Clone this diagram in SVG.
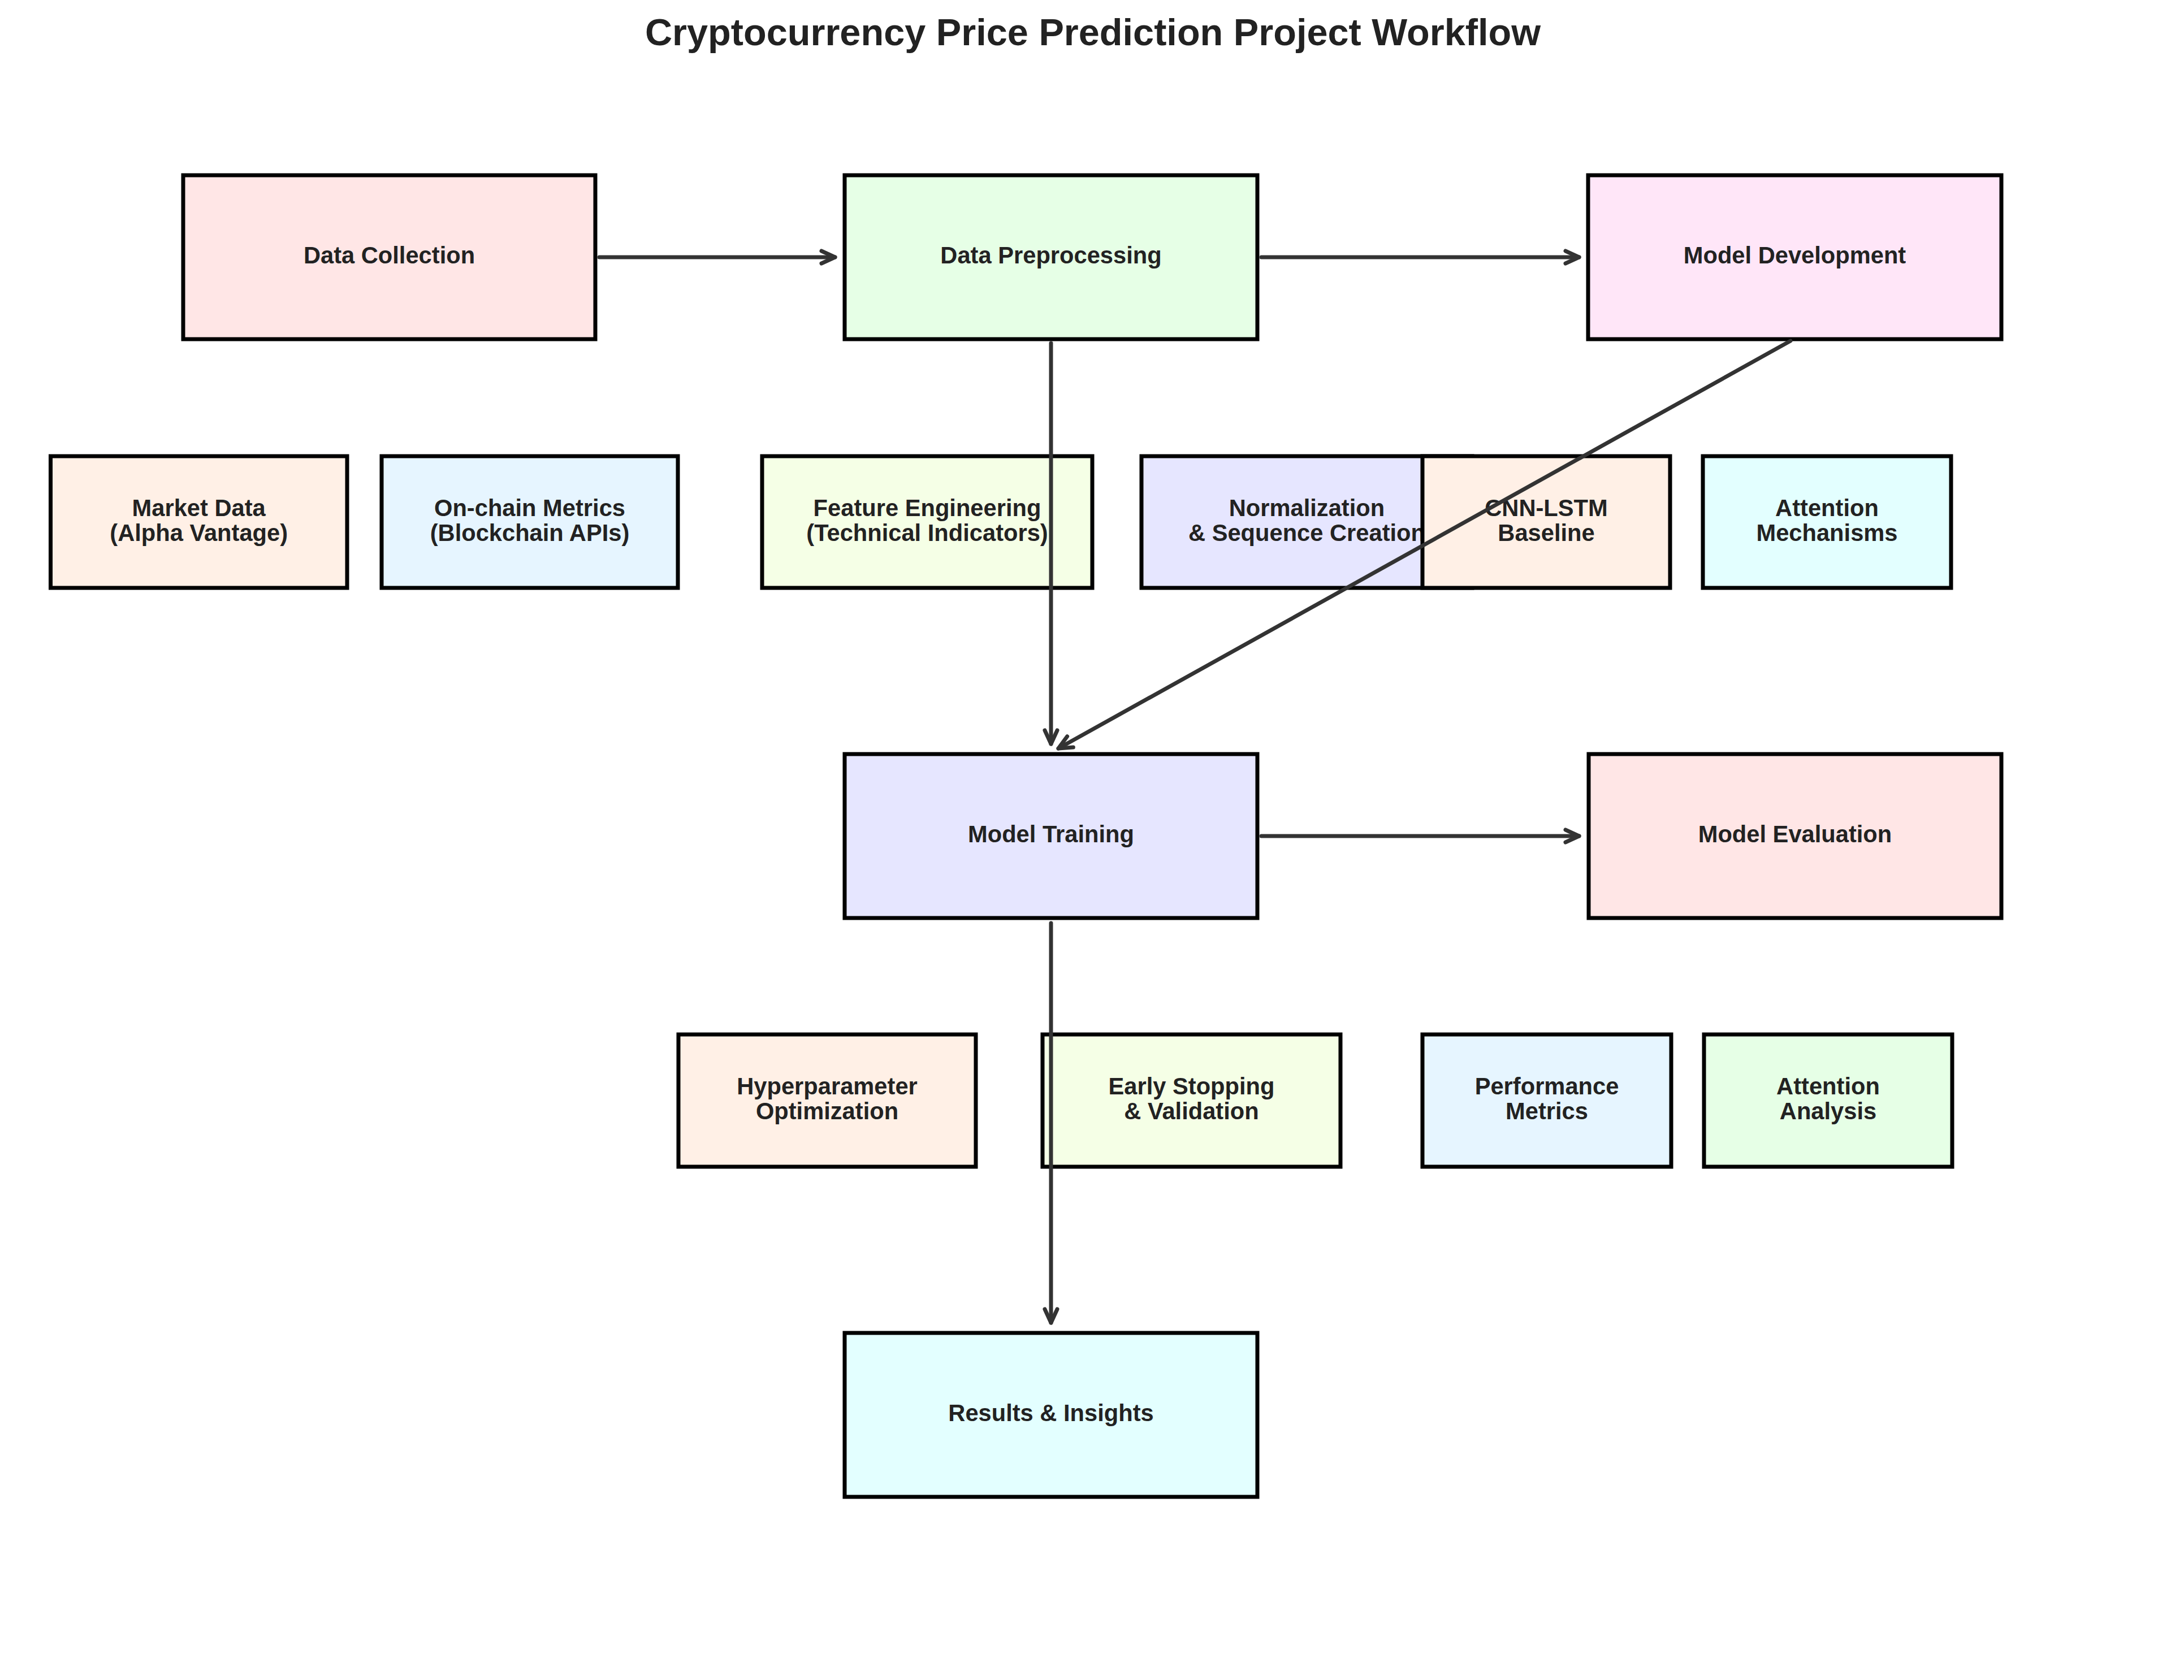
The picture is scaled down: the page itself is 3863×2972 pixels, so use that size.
<svg xmlns="http://www.w3.org/2000/svg" width="3863" height="2972" viewBox="0 0 3863 2972">
<defs>
<style>
.box{stroke:#000;stroke-width:7}
.lbl{font-family:"Liberation Sans",Arial,sans-serif;font-weight:bold;font-size:41.67px;fill:#222;text-anchor:middle}
.title{font-family:"Liberation Sans",Arial,sans-serif;font-weight:bold;font-size:66.67px;fill:#222;text-anchor:middle}
.conn{stroke:#333;stroke-width:7;fill:none;stroke-linecap:round;marker-end:url(#arr)}
</style>
<marker id="arr" markerUnits="userSpaceOnUse" markerWidth="60" markerHeight="60" viewBox="-30 -30 60 60" refX="0" refY="0" orient="auto" overflow="visible">
<path d="M -24 -11 L 0 0 L -24 11" fill="none" stroke="#333" stroke-width="7" stroke-linecap="round" stroke-linejoin="round"/>
</marker>
</defs>
<rect width="3863" height="2972" fill="#fff"/>
<text class="title" x="1933" y="80">Cryptocurrency Price Prediction Project Workflow</text>

<g id="data-collection"><rect class="box" x="324" y="310" width="729" height="290" fill="#FFE6E6"/><text class="lbl" x="688.5" y="466">Data Collection</text></g>
<g id="data-preprocessing"><rect class="box" x="1494" y="310" width="730" height="290" fill="#E6FFE6"/><text class="lbl" x="1859" y="466">Data Preprocessing</text></g>
<g id="model-development"><rect class="box" x="2809" y="310" width="731" height="290" fill="#FFE6F8"/><text class="lbl" x="3174.5" y="466">Model Development</text></g>
<g id="model-training"><rect class="box" x="1494" y="1334" width="730" height="290" fill="#E6E6FF"/><text class="lbl" x="1859" y="1490">Model Training</text></g>
<g id="model-evaluation"><rect class="box" x="2810" y="1334" width="730" height="290" fill="#FFE6E6"/><text class="lbl" x="3175" y="1490">Model Evaluation</text></g>
<g id="results"><rect class="box" x="1494" y="2358" width="730" height="290" fill="#E3FFFF"/><text class="lbl" x="1859" y="2514">Results &amp; Insights</text></g>

<g id="market-data"><rect class="box" x="89.5" y="807" width="524.5" height="233" fill="#FFF0E6"/><text class="lbl" x="351.7" y="912.5">Market Data</text><text class="lbl" x="351.7" y="956.5">(Alpha Vantage)</text></g>
<g id="onchain-metrics"><rect class="box" x="675" y="807" width="524" height="233" fill="#E6F5FF"/><text class="lbl" x="937" y="912.5">On-chain Metrics</text><text class="lbl" x="937" y="956.5">(Blockchain APIs)</text></g>
<g id="feature-engineering"><rect class="box" x="1348" y="807" width="584" height="233" fill="#F5FFE6"/><text class="lbl" x="1640" y="912.5">Feature Engineering</text><text class="lbl" x="1640" y="956.5">(Technical Indicators)</text></g>
<g id="normalization"><rect class="box" x="2019" y="807" width="585" height="233" fill="#E6E6FF"/><text class="lbl" x="2311.5" y="912.5">Normalization</text><text class="lbl" x="2311.5" y="956.5">&amp; Sequence Creation</text></g>
<g id="cnn-lstm"><rect class="box" x="2516" y="807" width="438" height="233" fill="#FFF0E6"/><text class="lbl" x="2735" y="912.5">CNN-LSTM</text><text class="lbl" x="2735" y="956.5">Baseline</text></g>
<g id="attention-mechanisms"><rect class="box" x="3012" y="807" width="439" height="233" fill="#E3FFFF"/><text class="lbl" x="3231.5" y="912.5">Attention</text><text class="lbl" x="3231.5" y="956.5">Mechanisms</text></g>

<g id="hyperparameter"><rect class="box" x="1200" y="1830" width="526" height="234" fill="#FFF0E6"/><text class="lbl" x="1463" y="1936">Hyperparameter</text><text class="lbl" x="1463" y="1980">Optimization</text></g>
<g id="early-stopping"><rect class="box" x="1844" y="1830" width="527" height="234" fill="#F5FFE6"/><text class="lbl" x="2107.5" y="1936">Early Stopping</text><text class="lbl" x="2107.5" y="1980">&amp; Validation</text></g>
<g id="performance-metrics"><rect class="box" x="2516" y="1830" width="440" height="234" fill="#E6F5FF"/><text class="lbl" x="2736" y="1936">Performance</text><text class="lbl" x="2736" y="1980">Metrics</text></g>
<g id="attention-analysis"><rect class="box" x="3014" y="1830" width="439" height="234" fill="#E6FFE6"/><text class="lbl" x="3233.5" y="1936">Attention</text><text class="lbl" x="3233.5" y="1980">Analysis</text></g>

<g id="connectors">
<path class="conn" d="M 1060 455 L 1477 455"/>
<path class="conn" d="M 2231 455 L 2793 455"/>
<path class="conn" d="M 1859 607 L 1859 1316"/>
<path class="conn" d="M 3167 603 L 1872 1324"/>
<path class="conn" d="M 2231 1479 L 2793 1479"/>
<path class="conn" d="M 1859 1633 L 1859 2340"/>
</g>
</svg>
